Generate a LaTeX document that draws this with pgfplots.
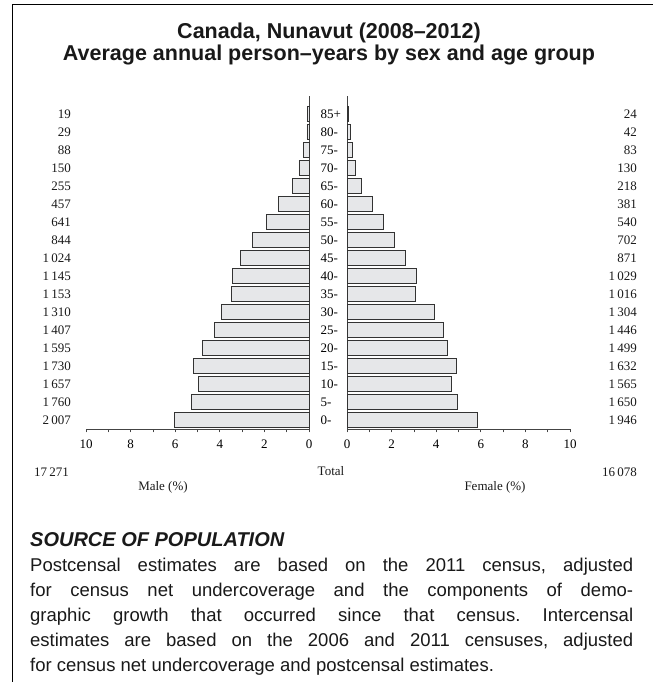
\documentclass[border=0pt]{standalone}
\usepackage{fontspec}
\setmainfont{Liberation Serif}
\setsansfont{Liberation Sans}
\usepackage{pgfplots}
\pgfplotsset{compat=1.18}
\usepackage{pgfplotstable}
\definecolor{barfill}{HTML}{E6E7E9}
\definecolor{bardraw}{HTML}{333333}
\definecolor{axgray}{HTML}{444444}

% age group index, male % and female % of total population (33 349)
\pgfplotstableread{
k male female
0 6.02 5.84
1 5.28 4.95
2 4.97 4.69
3 5.19 4.89
4 4.78 4.49
5 4.22 4.34
6 3.93 3.91
7 3.46 3.05
8 3.43 3.09
9 3.07 2.61
10 2.53 2.11
11 1.92 1.62
12 1.37 1.14
13 0.76 0.65
14 0.45 0.39
15 0.26 0.25
16 0.09 0.13
17 0.06 0.07
}\pyr

\pgfplotsset{
  pyr/.style={
    scale only axis, width=223pt, height=333pt,
    ymin=-0.5, ymax=18,
    axis x line*=bottom,
    axis line style={axgray, line width=0.8pt},
    xbar, bar width=15pt,
    tick align=outside,
    major tick length=3.5pt, minor tick length=3.5pt,
    every tick/.style={axgray, line width=0.7pt},
    ytick=\empty,
    x tick label style={font=\fontsize{13}{13}\selectfont, inner sep=0pt, yshift=-7pt},
    /pgf/number format/assume math mode=true,
    clip=false,
  }
}

\begin{document}
\frenchspacing
\begin{tikzpicture}[x=1pt,y=1pt]
\path[use as bounding box] (0,0) rectangle (653,682);
\draw[black, line width=1pt] (12,0) -- (12,677) -- (653,677);

\node[font=\sffamily\bfseries\fontsize{21.5}{22.5}\selectfont, align=center, text=black!90] at (329,638)
  {Canada, Nunavut (2008–2012)\\Average annual person–years by sex and age group};

% Male
\begin{axis}[pyr, at={(86pt,253pt)}, anchor=south west,
  xmin=-10, xmax=0,
  axis y line*=right,
  xtick={-10,-8,-6,-4,-2,0}, xticklabels={10,8,6,4,2,0},
  minor xtick={-9,-7,-5,-3,-1},
  ytick={0,...,17},
  yticklabels={0-,5-,10-,15-,20-,25-,30-,35-,40-,45-,50-,55-,60-,65-,70-,75-,80-,85+},
  yticklabel pos=right,
  y tick label style={anchor=west, inner sep=0pt, xshift=8pt, font=\fontsize{13}{13}\selectfont},
  ytick style={draw=none},
]
\addplot[fill=barfill, draw=bardraw, line width=0.8pt] table[x expr=-\thisrow{male}, y=k] {\pyr};
\end{axis}

% Female
\begin{axis}[pyr, at={(347pt,253pt)}, anchor=south west,
  xmin=0, xmax=10,
  axis y line*=left,
  xtick={0,2,4,6,8,10},
  minor xtick={1,3,5,7,9},
]
\addplot[fill=barfill, draw=bardraw, line width=0.8pt] table[x=female, y=k] {\pyr};
\end{axis}

\begin{scope}[every node/.style={font=\fontsize{13}{13}\selectfont, inner sep=0pt, text=black!90}]
\foreach \k/\n in {0/2\,007,1/1\,760,2/1\,657,3/1\,730,4/1\,595,5/1\,407,6/1\,310,7/1\,153,8/1\,145,9/1\,024,10/844,11/641,12/457,13/255,14/150,15/88,16/29,17/19}
  \node[anchor=east] at (71,{262+18*\k}) {\n};
\foreach \k/\n in {0/1\,946,1/1\,650,2/1\,565,3/1\,632,4/1\,499,5/1\,446,6/1\,304,7/1\,016,8/1\,029,9/871,10/702,11/540,12/381,13/218,14/130,15/83,16/42,17/24}
  \node[anchor=east] at (637,{262+18*\k}) {\n};
\node[anchor=east] at (69,210) {17\,271};
\node[anchor=east] at (637,210) {16\,078};
\node at (331,211) {Total};
\node at (163,195) {Male (\%)};
\node at (495,195) {Female (\%)};
\end{scope}

\node[anchor=north west, inner sep=0pt, text width=603pt, align=justify,
  font=\sffamily\fontsize{18.5}{25}\selectfont, text=black!90] at (30,150)
{{\fontsize{20}{25}\selectfont\bfseries\itshape SOURCE OF POPULATION}\\
Postcensal estimates are based on the 2011 census, adjusted\linebreak
for census net undercoverage and the components of demo-\linebreak
graphic growth that occurred since that census. Intercensal\linebreak
estimates are based on the 2006 and 2011 censuses, adjusted\linebreak
for census net undercoverage and postcensal estimates.};
\end{tikzpicture}
\end{document}
